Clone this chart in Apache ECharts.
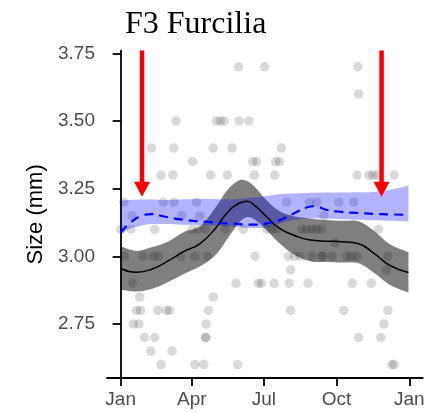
<!DOCTYPE html>
<html><head><meta charset="utf-8">
<script src="https://cdn.jsdelivr.net/npm/echarts@6/dist/echarts.min.js"></script>
<style>html,body{margin:0;padding:0;background:#fff}#c{width:433px;height:412px}</style>
</head><body><div id="c"></div>
<script>
const chartTitle = 'F3 Furcilia';
const yAxisTitle = 'Size (mm)';
const xTickDays = [0, 90, 181, 273, 365];
const xTickLabels = ['Jan', 'Apr', 'Jul', 'Oct', 'Jan'];
const yTicks = [2.75, 3.00, 3.25, 3.50, 3.75];

// observed sizes (mm) and the day-of-year of each observation, grouped by size level
const sizeLevels = [3.70, 3.60, 3.50, 3.40, 3.35, 3.30, 3.20, 3.15, 3.10, 3.05, 3.00, 2.95, 2.90, 2.85, 2.80, 2.75, 2.70, 2.65, 2.60];
const daysAtLevel = [
  [149, 182, 300],
  [301],
  [70, 121, 126, 131, 150, 162],
  [39, 67, 117, 141, 203],
  [91, 167, 172, 196, 201],
  [51, 66, 114, 135, 169, 195, 299, 314, 319, 324, 346],
  [4, 54, 67, 96, 210, 239, 248, 276, 295],
  [14, 77, 100, 257],
  [0, 13, 43, 90, 98, 107, 132, 155, 185, 191, 197, 229, 235, 242, 248, 254, 326],
  [271],
  [5, 28, 41, 48, 76, 94, 110, 170, 212, 220, 227, 242, 254, 256, 267, 286, 292, 299, 338],
  [215, 336],
  [15, 146, 174, 178, 194, 213, 237, 293, 317],
  [24, 117],
  [20, 25, 47, 58, 62, 111, 215, 282, 338],
  [16, 23, 108, 333],
  [30, 43, 107, 108, 301, 329],
  [38, 65],
  [51, 94, 105, 148, 343, 346]
];

// black smooth fit with grey confidence band
const grayDays  = [0, 20, 40, 60, 80, 100, 120, 135, 150, 160, 170, 185, 200, 220, 240, 260, 280, 300, 320, 340, 364];
const grayFit   = [2.955, 2.941, 2.953, 2.983, 3.018, 3.046, 3.104, 3.162, 3.196, 3.203, 3.186, 3.145, 3.105, 3.077, 3.060, 3.056, 3.054, 3.047, 3.012, 2.967, 2.940];
const grayLower = [2.876, 2.870, 2.880, 2.905, 2.935, 2.962, 3.005, 3.065, 3.125, 3.145, 3.135, 3.095, 3.050, 3.005, 2.982, 2.979, 2.977, 2.975, 2.940, 2.895, 2.866];
const grayUpper = [3.036, 3.020, 3.034, 3.055, 3.090, 3.110, 3.180, 3.245, 3.281, 3.278, 3.255, 3.205, 3.168, 3.147, 3.140, 3.134, 3.131, 3.130, 3.095, 3.045, 3.015];

// blue dashed fit with blue confidence band
const blueDays  = [0, 10, 25, 40, 55, 80, 110, 140, 170, 190, 205, 220, 235, 245, 260, 280, 300, 320, 340, 364];
const blueFit   = [3.088, 3.118, 3.148, 3.156, 3.147, 3.135, 3.127, 3.121, 3.117, 3.125, 3.138, 3.160, 3.180, 3.185, 3.172, 3.164, 3.160, 3.157, 3.155, 3.153];
const blueLower = [3.078, 3.100, 3.113, 3.119, 3.119, 3.117, 3.115, 3.110, 3.104, 3.110, 3.125, 3.135, 3.140, 3.141, 3.140, 3.137, 3.135, 3.133, 3.131, 3.129];
const blueUpper = [3.205, 3.208, 3.210, 3.210, 3.208, 3.211, 3.212, 3.210, 3.218, 3.225, 3.230, 3.232, 3.234, 3.235, 3.236, 3.236, 3.237, 3.238, 3.245, 3.262];

// red arrows: day, top of shaft, tip
const arrowDays = [27, 330];
const arrowTop = [3.76, 3.76];
const arrowTip = [3.22, 3.22];

const points = [];
sizeLevels.forEach((s, i) => daysAtLevel[i].forEach(d => points.push([d, s])));
const pairs = (xs, ys) => xs.map((x, i) => [x, ys[i]]);

function bandSeries(days, lo, hi, color, z) {
  return {
    type: 'custom', z: z, silent: true,
    data: days.map((d, i) => [d, lo[i], hi[i]]),
    encode: {x: 0, y: [1, 2]},
    renderItem: (params, api) => {
      if (params.dataIndex !== 0) return null;
      const up = days.map((d, i) => api.coord([d, hi[i]]));
      const low = days.map((d, i) => api.coord([d, lo[i]])).reverse();
      // repeat the four corner vertices so the smoothed outline keeps straight vertical ends
      const pts = [up[0]].concat(up, [up[up.length - 1]], [low[0]], low, [low[low.length - 1]]);
      return {type: 'polygon', shape: {points: pts, smooth: 0.35}, style: {fill: color}};
    }
  };
}

const labelFont = "'Liberation Sans', Arial, Helvetica, sans-serif";
const chart = echarts.init(document.getElementById('c'), null, {renderer: 'canvas'});
chart.setOption({
  animation: false,
  backgroundColor: '#ffffff',
  title: {
    text: chartTitle, left: 120, top: 4,
    textStyle: {fontFamily: "'Liberation Serif', 'Times New Roman', serif", fontSize: 32, fontWeight: 'normal', color: '#000'}
  },
  grid: {left: 107, right: 10.3, top: 50.6, bottom: 33.9, containLabel: false},
  xAxis: {
    type: 'value', min: -17.3, max: 382,
    splitLine: {show: false},
    axisLine: {show: true, lineStyle: {color: '#000', width: 1.8}},
    axisTick: {show: true, customValues: xTickDays, length: 8, lineStyle: {color: '#000', width: 1.8}},
    axisLabel: {
      customValues: xTickDays, margin: 12, fontSize: 19, color: '#4d4d4d', fontFamily: labelFont,
      formatter: v => xTickLabels[xTickDays.indexOf(v)]
    }
  },
  yAxis: {
    type: 'value', min: 2.55, max: 3.76,
    name: yAxisTitle, nameLocation: 'middle', nameRotate: 90, nameGap: 60,
    nameTextStyle: {fontSize: 22, color: '#000', fontFamily: labelFont},
    splitLine: {show: false},
    axisLine: {show: true, lineStyle: {color: '#000', width: 1.8}},
    axisTick: {show: true, customValues: yTicks, length: 8, lineStyle: {color: '#000', width: 1.8}},
    axisLabel: {
      customValues: yTicks, margin: 12, fontSize: 19, color: '#4d4d4d', fontFamily: labelFont,
      formatter: v => v.toFixed(2)
    }
  },
  series: [
    {
      type: 'scatter', data: points, symbolSize: 9.5, z: 1,
      itemStyle: {color: 'rgba(0,0,0,0.19)'}, silent: true
    },
    bandSeries(grayDays, grayLower, grayUpper, 'rgba(0,0,0,0.5)', 2),
    bandSeries(blueDays, blueLower, blueUpper, 'rgba(0,0,255,0.3)', 3),
    {
      type: 'line', data: pairs(grayDays, grayFit), smooth: true, symbol: 'none',
      lineStyle: {color: '#000', width: 1.5}, z: 4, silent: true
    },
    {
      type: 'line', data: pairs(blueDays, blueFit), smooth: true, symbol: 'none',
      lineStyle: {color: '#0000ff', width: 2.2, type: [9, 6]}, z: 5, silent: true
    },
    {
      type: 'custom', z: 6, silent: true,
      data: arrowDays.map((d, i) => [d, arrowTop[i], arrowTip[i]]),
      renderItem: (params, api) => {
        const top = api.coord([api.value(0), api.value(1)]);
        const tip = api.coord([api.value(0), api.value(2)]);
        const head = 15, hw = 8;
        return {
          type: 'group', children: [
            {type: 'line', shape: {x1: top[0], y1: top[1], x2: tip[0], y2: tip[1] - head + 1},
             style: {stroke: '#ff0000', lineWidth: 4.5}},
            {type: 'polygon', shape: {points: [[tip[0] - hw, tip[1] - head], [tip[0] + hw, tip[1] - head], [tip[0], tip[1]]]},
             style: {fill: '#ff0000'}}
          ]
        };
      }
    }
  ]
});
</script></body></html>
